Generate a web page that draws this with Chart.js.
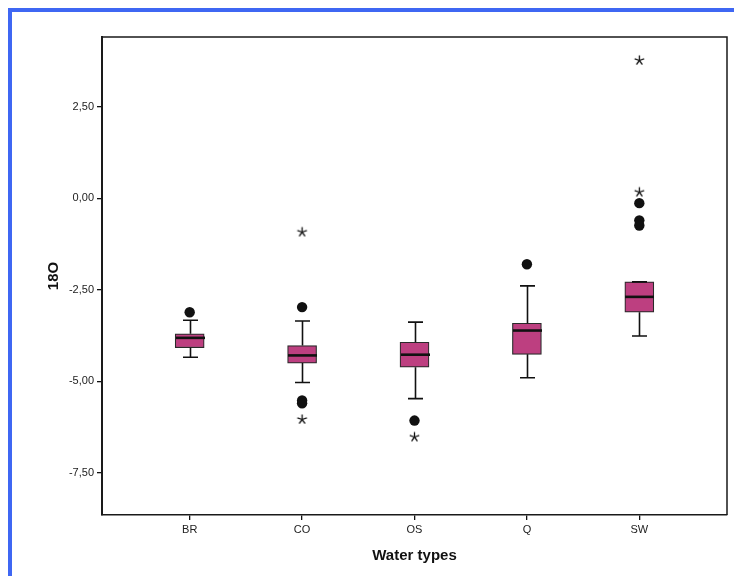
<!DOCTYPE html>
<html>
<head>
<meta charset="utf-8">
<script src="https://cdn.jsdelivr.net/npm/chart.js@4/dist/chart.umd.min.js"></script>
<style>
  html, body { margin: 0; padding: 0; background: #fff; }
  #wrap { position: relative; width: 734px; height: 576px; overflow: hidden; }
  #frame { position: absolute; left: 8px; top: 8px; width: 740px; height: 600px;
           border-top: 4px solid #3f67f3; border-left: 4px solid #3f67f3; box-sizing: border-box; }
  canvas { position: absolute; left: 0; top: 0; }
</style>
</head>
<body>
<div id="wrap">
  <div id="frame"></div>
  <canvas id="c" width="734" height="576"></canvas>
</div>
<script>
// Water types on the category axis
const categories = ['BR', 'CO', 'OS', 'Q', 'SW'];

// Box-plot summary of 18O per water type
const lowerWhisker = [-4.34, -5.03, -5.47, -4.90, -3.76];
const quartile1    = [-4.08, -4.50, -4.61, -4.26, -3.11];
const medians      = [-3.81, -4.29, -4.27, -3.61, -2.69];
const quartile3    = [-3.70, -4.02, -3.93, -3.41, -2.28];
const upperWhisker = [-3.33, -3.35, -3.38, -2.39, -2.28];

// Outliers (circles) and extreme values (stars) per water type
const outlierValues = [[-3.11], [-2.97, -5.52, -5.60], [-6.07], [-1.80], [-0.13, -0.60, -0.74]];
const extremeValues = [[], [-0.92, -6.04], [-6.52], [], [3.77, 0.17]];

// Y axis ticks
const yTicks = [2.5, 0, -2.5, -5, -7.5];

const boxFill = '#bd3f80';
const ink = '#111';

// Five-spoke asterisk marker for extreme values
const star = document.createElement('canvas');
star.width = 13; star.height = 13;
(function () {
  const g = star.getContext('2d');
  g.strokeStyle = ink; g.lineWidth = 1.3; g.lineCap = 'butt';
  const cx = 6.5, cy = 6.5, r = 5;
  for (let k = 0; k < 5; k++) {
    const a = -Math.PI / 2 + k * 2 * Math.PI / 5;
    g.beginPath(); g.moveTo(cx, cy);
    g.lineTo(cx + r * Math.cos(a), cy + r * Math.sin(a)); g.stroke();
  }
})();

const boxData = categories.map((c, i) => ({ x: i, y: [quartile1[i], quartile3[i]] }));
const outlierPoints = [];
outlierValues.forEach((vals, i) => vals.forEach(v => outlierPoints.push({ x: i, y: v })));
const extremePoints = [];
extremeValues.forEach((vals, i) => vals.forEach(v => extremePoints.push({ x: i, y: v })));

// Whiskers, caps and medians, placed through the chart scales
const whiskerPlugin = {
  id: 'whiskers',
  afterDatasetsDraw(chart) {
    const { ctx, scales: { x, y } } = chart;
    ctx.save();
    ctx.strokeStyle = ink;
    categories.forEach((c, i) => {
      const px = Math.round(x.getPixelForValue(i)) + 0.5;
      const yLo = y.getPixelForValue(lowerWhisker[i]);
      const yQ1 = y.getPixelForValue(quartile1[i]);
      const yQ3 = y.getPixelForValue(quartile3[i]);
      const yHi = y.getPixelForValue(upperWhisker[i]);
      const yMed = y.getPixelForValue(medians[i]);
      const cap = 7.5, half = 14.5;
      ctx.lineWidth = 1.6;
      ctx.beginPath();
      ctx.moveTo(px, yQ1); ctx.lineTo(px, yLo);
      ctx.moveTo(px - cap, yLo); ctx.lineTo(px + cap, yLo);
      ctx.moveTo(px, yQ3); ctx.lineTo(px, yHi);
      ctx.moveTo(px - cap, yHi); ctx.lineTo(px + cap, yHi);
      ctx.stroke();
      ctx.lineWidth = 2.6;
      ctx.beginPath();
      ctx.moveTo(px - half, yMed); ctx.lineTo(px + half, yMed);
      ctx.stroke();
    });
    ctx.restore();
  }
};

// Top and right edges of the plot frame
const framePlugin = {
  id: 'plotFrame',
  afterDraw(chart) {
    const { ctx, chartArea: a } = chart;
    ctx.save();
    ctx.strokeStyle = '#1a1a1a';
    ctx.lineWidth = 1.5;
    ctx.beginPath();
    ctx.moveTo(a.left, a.top); ctx.lineTo(a.right, a.top); ctx.lineTo(a.right, a.bottom);
    ctx.stroke();
    ctx.restore();
  }
};

new Chart(document.getElementById('c'), {
  type: 'bar',
  data: {
    datasets: [
      {
        type: 'bar',
        data: boxData,
        backgroundColor: boxFill,
        borderColor: '#2a2a2a',
        borderWidth: 1.2,
        borderSkipped: false,
        barThickness: 29,
        grouped: false
      },
      {
        type: 'scatter',
        data: outlierPoints,
        pointStyle: 'circle',
        pointRadius: 5.2,
        backgroundColor: ink,
        borderColor: ink,
        borderWidth: 0
      },
      {
        type: 'scatter',
        data: extremePoints,
        pointStyle: star,
        pointRadius: 6
      }
    ]
  },
  options: {
    responsive: false,
    animation: false,
    devicePixelRatio: 1,
    layout: { padding: { left: 0, top: 37, right: 7, bottom: 0 } },
    plugins: { legend: { display: false }, tooltip: { enabled: false } },
    scales: {
      x: {
        type: 'linear',
        offset: false,
        min: -0.78,
        max: 4.78,
        afterBuildTicks(scale) { scale.ticks = categories.map((c, i) => ({ value: i })); },
        afterFit(scale) { scale.height = 61; },
        ticks: {
          callback: (v) => categories[v] ?? '',
          color: '#222',
          font: { family: 'Liberation Sans', size: 11 },
          padding: 3,
          maxRotation: 0,
          autoSkip: false
        },
        grid: { display: true, offset: false, drawOnChartArea: false, drawTicks: true, tickLength: 5, color: ink, lineWidth: 1.3 },
        border: { display: true, color: '#1a1a1a', width: 1.5 },
        title: {
          display: true,
          text: 'Water types',
          color: '#111',
          font: { family: 'Liberation Sans', size: 15, weight: 'bold' },
          padding: { top: 0, bottom: 11 }
        }
      },
      y: {
        type: 'linear',
        min: -8.65,
        max: 4.41,
        afterBuildTicks(scale) { scale.ticks = yTicks.map(v => ({ value: v })); },
        afterFit(scale) { scale.width = 102; },
        ticks: {
          callback: (v) => v.toFixed(2).replace('.', ','),
          color: '#222',
          font: { family: 'Liberation Sans', size: 11 },
          padding: 3
        },
        grid: { display: true, drawOnChartArea: false, drawTicks: true, tickLength: 5, color: ink, lineWidth: 1.3 },
        border: { display: true, color: '#1a1a1a', width: 2 },
        title: {
          display: true,
          text: '18O',
          color: '#111',
          font: { family: 'Liberation Sans', size: 15, weight: 'bold' },
          padding: { top: 45, bottom: 0 }
        }
      }
    }
  },
  plugins: [whiskerPlugin, framePlugin]
});
</script>
</body>
</html>
